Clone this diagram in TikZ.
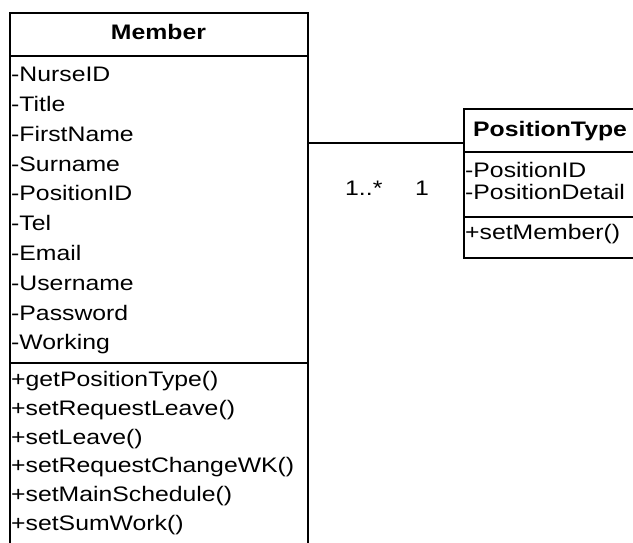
\documentclass[tikz,border=0pt]{standalone}
\usepackage{fontspec}
\newfontfamily\umlfont[FakeStretch=1.18]{Liberation Sans}
\usepackage{tikz}

\begin{document}
\begin{tikzpicture}[x=1pt, y=-1pt,
        box/.style = {draw, line width=2pt, inner sep=0pt},
        sep/.style = {line width=2pt},
        classname/.style = {font=\umlfont\fontsize{21}{25}\selectfont\bfseries, inner sep=0pt, anchor=base},
        item/.style = {font=\umlfont\fontsize{21}{25}\selectfont, inner sep=0pt, anchor=base west}]
    \useasboundingbox (0,0) rectangle (633,543);
    \clip (0,0) rectangle (633,543);

    % Member class
    \node[box, anchor=north west, minimum width=297.4pt, minimum height=560pt] (memberbox) at (9.3,12.3) {};
    \node[classname] (member) at (158.5,40) {Member};
    \draw[sep] (memberbox.west |- 0,56) -- (memberbox.east |- 0,56);
    \node[item] (nurseid) at (11,81.7) {-NurseID};
    \node[item] (title) at (11,111.5) {-Title};
    \node[item] (firstname) at (11,141.3) {-FirstName};
    \node[item] (surname) at (11,171.1) {-Surname};
    \node[item] (positionid) at (11,200.9) {-PositionID};
    \node[item] (tel) at (11,230.7) {-Tel};
    \node[item] (email) at (11,260.5) {-Email};
    \node[item] (username) at (11,290.3) {-Username};
    \node[item] (password) at (11,320.1) {-Password};
    \node[item] (working) at (11,349.9) {-Working};
    \draw[sep] (memberbox.west |- 0,362.5) -- (memberbox.east |- 0,362.5);
    \node[item] (getpos) at (11,386.7) {+getPositionType()};
    \node[item] (setreqleave) at (11,415.4) {+setRequestLeave()};
    \node[item] (setleave) at (11,444.1) {+setLeave()};
    \node[item] (setreqchange) at (11,472.8) {+setRequestChangeWK()};
    \node[item] (setmain) at (11,501.5) {+setMainSchedule()};
    \node[item] (setsum) at (11,530.2) {+setSumWork()};

    % PositionType class
    \node[box, anchor=north west, minimum width=200pt, minimum height=149.6pt] (ptypebox) at (463.3,107.7) {};
    \node[classname, anchor=base west] (ptype) at (473,136.7) {PositionType};
    \draw[sep] (ptypebox.west |- 0,151.7) -- (ptypebox.east |- 0,151.7);
    \node[item] (ptid) at (465,177.3) {-PositionID};
    \node[item] (ptdetail) at (465,200) {-PositionDetail};
    \draw[sep] (ptypebox.west |- 0,217.3) -- (ptypebox.east |- 0,217.3);
    \node[item] (setmember) at (465,239.3) {+setMember()};

    % association with multiplicities
    \draw[sep] (memberbox.east |- 0,143.5) -- (ptypebox.west |- 0,143.5);
    \node[item] (multmany) at (345,195) {1..*};
    \node[item] (multone) at (415,195) {1};
\end{tikzpicture}
\end{document}
